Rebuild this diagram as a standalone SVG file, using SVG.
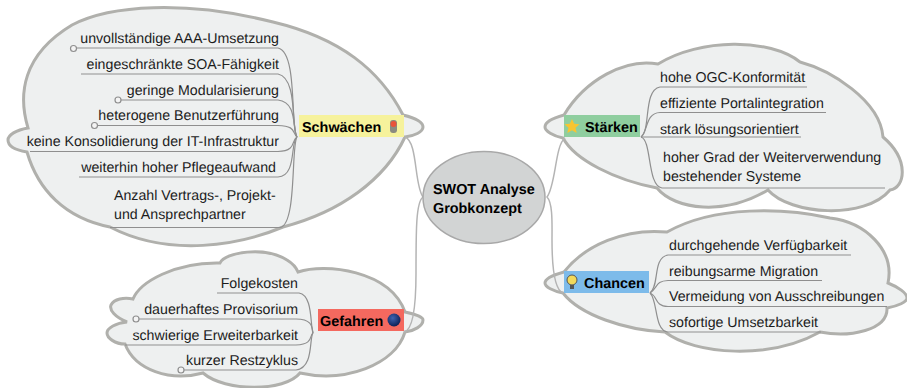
<svg xmlns="http://www.w3.org/2000/svg" width="907" height="388" viewBox="0 0 907 388">
<defs><radialGradient id="bomb" cx="0.4" cy="0.35" r="0.7"><stop offset="0" stop-color="#3f63b0"/><stop offset="1" stop-color="#0a1c50"/></radialGradient></defs>
<style>
.cloud{fill:#eef0f0;stroke:#b0b0ac;stroke-width:3}
.line{fill:none;stroke:#8f8f8f;stroke-width:1.2}
.main{fill:none;stroke:#b4b4b4;stroke-width:1.5}
.knob{fill:#f4f4f4;stroke:#8f8f8f;stroke-width:1.2}
text{font-family:"Liberation Sans",Arial,sans-serif;font-size:14.2px;fill:#1c1c1c;text-rendering:geometricPrecision}
.b{font-weight:bold;fill:#000;font-size:14.4px}
.e{text-anchor:end}
</style>
<g id="cloud-schwaechen"><path class="cloud" d="M28 128C18 95 22 55 72 25C110 5 185 0 273 22C340 38 380 70 403 115C415 118 423 122 423 127C423 132 414 136 405 137C385 180 340 212 283 227C240 245 170 258 110 227C65 218 38 190 27 152C15 150 8 146 8 140C8 135 16 130 28 128Z"/></g>
<g id="cloud-gefahren"><path class="cloud" d="M127 322C115 317 109 310 111 305C114 299 124 297 133 299C140 282 175 262 220 263C225 252 265 246 287 260C292 263 296 267 298 272C325 263 390 270 405 312C415 314 423 317 423 320C423 326 414 331 405 332C395 365 345 383 300 373C285 392 225 392 203 373C170 382 135 370 125 344C115 344 107 338 107 333C107 328 116 323 127 322Z"/></g>
<g id="cloud-staerken"><path class="cloud" d="M564 115C553 118 545 122 545 127C545 131 553 136 563 138C575 160 615 180 657 188C675 210 725 216 768 190C790 215 865 220 890 190C905 188 910 160 883 137C880 100 830 70 800 62C770 38 700 38 658 64C625 58 585 80 564 115Z"/></g>
<g id="cloud-chancen"><path class="cloud" d="M564 272C553 275 545 279 545 283C545 287 553 291 563 293C580 315 625 330 665 332C695 355 770 360 820 332C850 338 888 330 887 308C898 306 907 302 907 298C907 293 898 287 888 283C895 250 865 222 830 218C785 208 715 205 667 232C625 228 585 245 564 272Z"/></g>

<g id="connectors">
<path class="main" d="M405 137C418 142 414 185 423 197C416 202 416 230 416 273C416 300 414 330 404 332"/>
<path class="main" d="M565 138C555 145 556 185 547 197C553 203 552 225 552 240C552 270 555 290 563 293"/>
<path class="line" d="M297 137C290 128 298 52 278 48H76"/>
<path class="line" d="M297 137C291 128 298 78 278 74H81"/>
<path class="line" d="M297 137C292 130 298 102 278 100H121"/>
<path class="line" d="M297 137C292 132 296 126 278 125.500H98"/>
<path class="line" d="M297 137C291 140 297 151 278 151.500H30"/>
<path class="line" d="M297 137C290 142 297 176 278 177H79"/>
<path class="line" d="M297 137C291 145 297 225 280 227.500H110"/>
<circle class="knob" cx="73.500" cy="48.500" r="3"/><circle class="knob" cx="118" cy="100" r="3"/><circle class="knob" cx="94.500" cy="125.500" r="3"/>
<path class="line" d="M313 333C310 325 313 295 299 293H217"/>
<path class="line" d="M313 333C312 328 313 319 296 319H139"/>
<path class="line" d="M313 333C309 336 314 344 296 345H125"/>
<path class="line" d="M313 333C309 338 314 368 296 370H184"/>
<circle class="knob" cx="136" cy="319" r="3"/><circle class="knob" cx="181" cy="370" r="3"/>
<path class="line" d="M641 137C651 130 643 90 660 87H807"/>
<path class="line" d="M641 137C648 132 645 113 660 112.500H826"/>
<path class="line" d="M641 137H801"/>
<path class="line" d="M641 137C652 140 647 186 662 188H885"/>
<path class="line" d="M650 293C660 285 652 258 668 255H851"/>
<path class="line" d="M650 293C658 288 655 281 668 280.500H822"/>
<path class="line" d="M650 293C658 296 654 306 668 306.500H887"/>
<path class="line" d="M650 293C658 300 654 331 668 332H821"/>
</g>

<g id="node-center"><ellipse cx="484" cy="197.500" rx="61" ry="46" fill="#d2d4d4" stroke="#a8a8a8" stroke-width="1.500"/>
<text class="b" x="433" y="194">SWOT Analyse</text><text class="b" x="433" y="213">Grobkonzept</text></g>

<g id="node-schwaechen"><rect x="299" y="115" width="105" height="22" fill="#f6f29c"/>
<text class="b" x="302" y="132">Schwächen</text>
<rect x="390" y="120" width="7" height="13" rx="3" fill="#8a8a80"/><circle cx="393.500" cy="124" r="3" fill="#e8523a"/></g>
<g id="node-gefahren"><rect x="318" y="309" width="86" height="22" fill="#f4695f"/>
<text class="b" x="320" y="326">Gefahren</text><circle cx="394" cy="320" r="6.500" fill="url(#bomb)"/></g>
<g id="node-staerken"><rect x="564" y="115" width="76" height="22" fill="#8fce9f"/>
<polygon points="572,119 574.200,123.800 579.500,124.300 575.500,127.800 576.700,133 572,130.300 567.300,133 568.500,127.800 564.500,124.300 569.800,123.800" fill="#f8c531"/>
<text class="b" x="585" y="132">Stärken</text></g>
<g id="node-chancen"><rect x="564" y="271" width="85" height="22" fill="#7dbbea"/>
<circle cx="572" cy="280" r="5" fill="#f2d95a" stroke="#555"/><rect x="570" y="285" width="4" height="4" fill="#555"/>
<text class="b" x="584" y="288">Chancen</text></g>

<g id="topics-schwaechen">
<text class="e" x="279" y="43">unvollständige AAA-Umsetzung</text>
<text class="e" x="279" y="69">eingeschränkte SOA-Fähigkeit</text>
<text class="e" x="279" y="95">geringe Modularisierung</text>
<text class="e" x="279" y="120">heterogene Benutzerführung</text>
<text class="e" x="279" y="146">keine Konsolidierung der IT-Infrastruktur</text>
<text class="e" x="276" y="172">weiterhin hoher Pflegeaufwand</text>
<text x="114" y="200">Anzahl Vertrags-, Projekt-</text>
<text x="114" y="219">und Ansprechpartner</text>
</g>
<g id="topics-gefahren">
<text class="e" x="298" y="288">Folgekosten</text>
<text class="e" x="298" y="314">dauerhaftes Provisorium</text>
<text class="e" x="298" y="340">schwierige Erweiterbarkeit</text>
<text class="e" x="298" y="365">kurzer Restzyklus</text>
</g>
<g id="topics-staerken">
<text x="660" y="82">hohe OGC-Konformität</text>
<text x="660" y="108">effiziente Portalintegration</text>
<text x="660" y="134">stark lösungsorientiert</text>
<text x="663" y="162">hoher Grad der Weiterverwendung</text>
<text x="663" y="181">bestehender Systeme</text>
</g>
<g id="topics-chancen">
<text x="669" y="250">durchgehende Verfügbarkeit</text>
<text x="669" y="276">reibungsarme Migration</text>
<text x="669" y="301">Vermeidung von Ausschreibungen</text>
<text x="669" y="327">sofortige Umsetzbarkeit</text>
</g>
</svg>
